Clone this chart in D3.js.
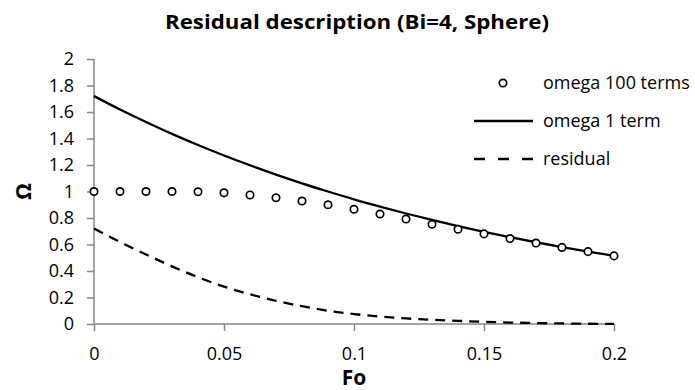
<!DOCTYPE html>
<html>
<head>
<meta charset="utf-8">
<script src="https://cdn.jsdelivr.net/npm/d3@7"></script>
<style>
  body { margin: 0; background: #fff; }
  text { font-family: "Open Sans", Lato, sans-serif; fill: #000; }
</style>
</head>
<body>
<div id="viz"></div>
<script>
// values
let fo = [0, 0.01, 0.02, 0.03, 0.04, 0.05, 0.06, 0.07, 0.08, 0.09, 0.1,
  0.11, 0.12, 0.13, 0.14, 0.15, 0.16, 0.17, 0.18, 0.19, 0.2];
let omega100 = [1.0, 1.0, 1.0, 1.0, 0.998, 0.99, 0.974, 0.953, 0.928, 0.9, 0.866,
  0.83, 0.792, 0.753, 0.715, 0.68, 0.645, 0.611, 0.578, 0.546, 0.514];
let omega1 = [1.72, 1.619, 1.525, 1.435, 1.351, 1.272, 1.198, 1.128, 1.062, 1.0, 0.941,
  0.886, 0.834, 0.785, 0.739, 0.696, 0.655, 0.617, 0.581, 0.547, 0.515];
let residual = [0.72, 0.619, 0.525, 0.435, 0.353, 0.282, 0.224, 0.175, 0.134, 0.1, 0.075,
  0.056, 0.042, 0.032, 0.024, 0.016, 0.011, 0.007, 0.004, 0.002, 0.001];
let xTicks = [0, 0.05, 0.1, 0.15, 0.2];
let yTicks = [0, 0.2, 0.4, 0.6, 0.8, 1, 1.2, 1.4, 1.6, 1.8, 2];
let legendLabels = ["omega 100 terms", "omega 1 term", "residual"];

let w = 695;
let h = 390;
let font = "'Open Sans', Lato, sans-serif";

const svg = d3.select("#viz")
  .append("svg")
  .attr("width", w)
  .attr("height", h);

const xScale = d3.scaleLinear()
  .domain([0, 0.2])
  .range([94, 614]);

const yScale = d3.scaleLinear()
  .domain([0, 2])
  .range([324, 59]);

let axisColor = "#868686";

// x axis
let xAxis = svg.append("g")
  .attr("transform", `translate(0,${yScale(0)})`)
  .call(d3.axisBottom(xScale).tickValues(xTicks).tickFormat(d3.format("")).tickSize(7).tickPadding(16));

// y axis
let yAxis = svg.append("g")
  .attr("transform", `translate(${xScale(0)},0)`)
  .call(d3.axisLeft(yScale).tickValues(yTicks).tickFormat(d3.format("")).tickSize(7).tickPadding(13));

[xAxis, yAxis].forEach(a => {
  a.selectAll("path, line").attr("stroke", axisColor).attr("stroke-width", 1.5);
  a.select(".domain").attr("d", a === xAxis
    ? `M${xScale(0)},0H${xScale(0.2)}`
    : `M0,${yScale(0)}V${yScale(2)}`);
  a.selectAll("text")
    .style("font-family", font)
    .style("font-size", "18px")
    .attr("fill", "#000");
});

let lineGen = d3.line()
  .x((d, i) => xScale(fo[i]))
  .y(d => yScale(d))
  .curve(d3.curveMonotoneX);

// one-term line
svg.append("path")
  .attr("d", lineGen(omega1))
  .attr("fill", "none")
  .attr("stroke", "black")
  .attr("stroke-width", 2.3);

// residual
svg.append("path")
  .attr("d", lineGen(residual))
  .attr("fill", "none")
  .attr("stroke", "black")
  .attr("stroke-width", 2.3)
  .attr("stroke-dasharray", "10,7");

// 100 terms markers
svg.append("g").selectAll("circle")
  .data(omega100)
  .enter()
  .append("circle")
  .attr("cx", (d, i) => xScale(fo[i]))
  .attr("cy", d => yScale(d))
  .attr("r", 3.7)
  .attr("fill", "white")
  .attr("stroke", "black")
  .attr("stroke-width", 1.7);

// titles
svg.append("text")
  .attr("x", 357)
  .attr("y", 29)
  .attr("text-anchor", "middle")
  .style("font-size", "20px")
  .style("font-weight", "bold")
  .attr("textLength", 384)
  .attr("lengthAdjust", "spacingAndGlyphs")
  .text("Residual description (Bi=4, Sphere)");

svg.append("text")
  .attr("x", xScale(0.1))
  .attr("y", 385)
  .attr("text-anchor", "middle")
  .style("font-size", "21px")
  .style("font-weight", "bold")
  .text("Fo");

svg.append("text")
  .attr("transform", `translate(31,${yScale(1)}) rotate(-90)`)
  .attr("text-anchor", "middle")
  .style("font-size", "21px")
  .style("font-weight", "bold")
  .text("Ω");

// legend
let legend = svg.append("g");
legendLabels.forEach((lab, i) => {
  let ly = 83 + i * 38;
  if (i == 0) {
    legend.append("circle")
      .attr("cx", 503).attr("cy", ly).attr("r", 3.7)
      .attr("fill", "white").attr("stroke", "black").attr("stroke-width", 1.7);
  } else {
    legend.append("line")
      .attr("x1", 474).attr("x2", 533).attr("y1", ly).attr("y2", ly)
      .attr("stroke", "black").attr("stroke-width", 2.3)
      .attr("stroke-dasharray", i == 2 ? "11,13" : null);
  }
  legend.append("text")
    .attr("x", 543)
    .attr("y", ly + 6)
    .style("font-size", "18px")
    .text(lab);
});
</script>
</body>
</html>
